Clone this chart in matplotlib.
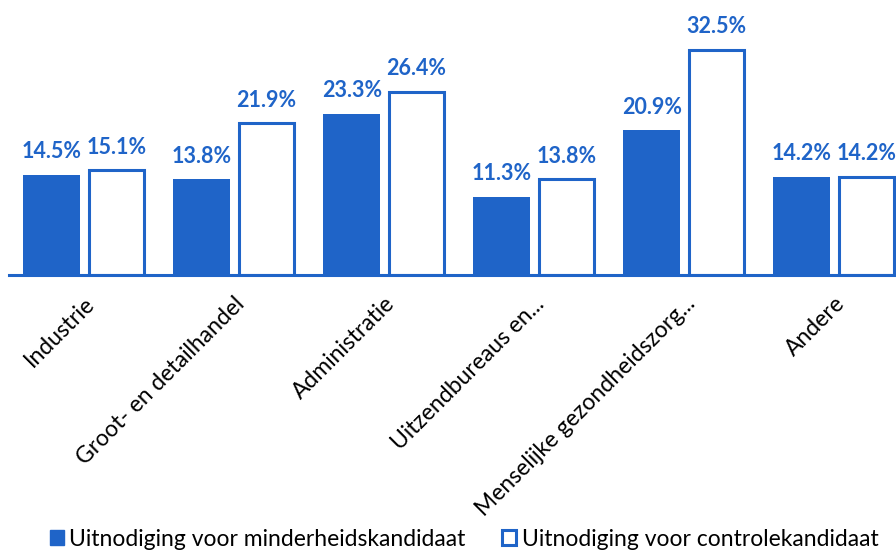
import numpy as np
import matplotlib.pyplot as plt
from matplotlib.patches import Patch

plt.rcParams['font.family'] = ['Lato', 'DejaVu Sans']

categories = ['Industrie', 'Groot- en detailhandel', 'Administratie',
              'Uitzendbureaus en...', 'Menselijke gezondheidszorg...', 'Andere']
minderheid = [14.5, 13.8, 23.3, 11.3, 20.9, 14.2]
controle = [15.1, 21.9, 26.4, 13.8, 32.5, 14.2]
series_names = ['Uitnodiging voor minderheidskandidaat',
                'Uitnodiging voor controlekandidaat']

blue = '#1F64C8'

fig = plt.figure(figsize=(8.96, 5.58), dpi=100)
ax = fig.add_axes([9 / 896, 283 / 558, 900 / 896, 275 / 558])

x = np.arange(len(categories))
w = 0.38
off = 0.215
b1 = ax.bar(x - off, minderheid, w, color=blue, edgecolor=blue, linewidth=0)
b2 = ax.bar(x + off, controle, w - 0.015, color='white', edgecolor=blue, linewidth=2.2)

for bars, vals in [(b1, minderheid), (b2, controle)]:
    for r, v in zip(bars, vals):
        ax.annotate(f'{v:.1f}%', (r.get_x() + r.get_width() / 2, r.get_height()),
                    xytext=(0, 12), textcoords='offset points', ha='center',
                    va='baseline', fontsize=15.5, fontweight='bold', color=blue)

ax.set_xlim(-0.5, 5.5)
ax.set_ylim(0, 39.7)
ax.set_yticks([])
for s in ['top', 'right', 'left']:
    ax.spines[s].set_visible(False)
ax.spines['bottom'].set_color(blue)
ax.spines['bottom'].set_linewidth(2.2)

ax.set_xticks(x)
ax.set_xticklabels(categories, rotation=45, ha='right', rotation_mode='anchor',
                   fontsize=16.5, color='black')
ax.tick_params(axis='x', length=0, pad=13)

handles = [Patch(facecolor=blue, edgecolor=blue),
           Patch(facecolor='white', edgecolor=blue, linewidth=2.2)]
fig.legend(handles, series_names, loc='lower center', bbox_to_anchor=(0.518, -0.022),
           ncol=2, frameon=False, fontsize=16.5, handlelength=0.6, handleheight=0.6,
           handletextpad=0.25, columnspacing=1.6)

fig.savefig('out.png', dpi=100)
